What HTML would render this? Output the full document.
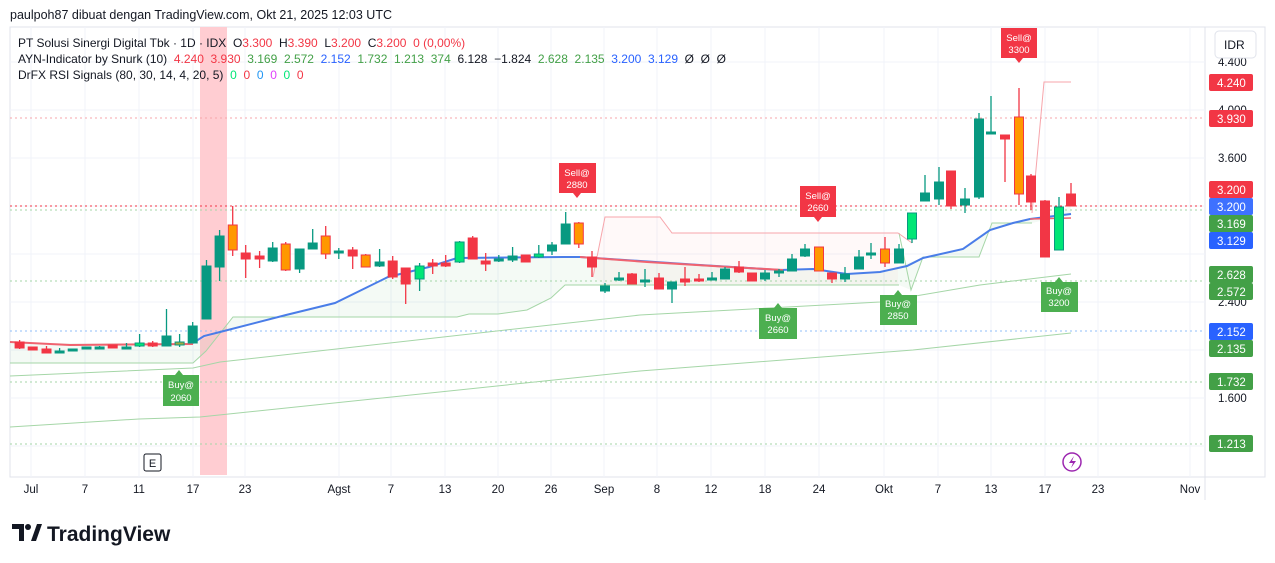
<!DOCTYPE html>
<html><head><meta charset="utf-8"><style>
body{margin:0;width:1275px;height:563px;background:#fff;overflow:hidden;font-family:"Liberation Sans",sans-serif;}
.t{position:absolute;white-space:nowrap;font-size:12px;color:#131722;}
</style></head><body>
<div style="position:relative;width:1275px;height:563px">
<svg width="1275" height="563" style="position:absolute;left:0;top:0" font-family="Liberation Sans, sans-serif">
<rect x="10" y="27" width="1255" height="450" fill="none" stroke="#e0e3eb"/>
<line x1="1205" y1="27" x2="1205" y2="500" stroke="#e0e3eb"/>
<line x1="10" y1="477" x2="1205" y2="477" stroke="#e0e3eb"/>
<g stroke="#f0f3fa">
<line x1="10" y1="62" x2="1205" y2="62"/><line x1="10" y1="110" x2="1205" y2="110"/><line x1="10" y1="158" x2="1205" y2="158"/><line x1="10" y1="206" x2="1205" y2="206"/><line x1="10" y1="254" x2="1205" y2="254"/><line x1="10" y1="302" x2="1205" y2="302"/><line x1="10" y1="350" x2="1205" y2="350"/><line x1="10" y1="398" x2="1205" y2="398"/><line x1="10" y1="446" x2="1205" y2="446"/>
<line x1="31" y1="27" x2="31" y2="477"/><line x1="85" y1="27" x2="85" y2="477"/><line x1="139" y1="27" x2="139" y2="477"/><line x1="193" y1="27" x2="193" y2="477"/><line x1="245" y1="27" x2="245" y2="477"/><line x1="339" y1="27" x2="339" y2="477"/><line x1="391" y1="27" x2="391" y2="477"/><line x1="445" y1="27" x2="445" y2="477"/><line x1="498" y1="27" x2="498" y2="477"/><line x1="551" y1="27" x2="551" y2="477"/><line x1="604" y1="27" x2="604" y2="477"/><line x1="657" y1="27" x2="657" y2="477"/><line x1="711" y1="27" x2="711" y2="477"/><line x1="765" y1="27" x2="765" y2="477"/><line x1="819" y1="27" x2="819" y2="477"/><line x1="884" y1="27" x2="884" y2="477"/><line x1="938" y1="27" x2="938" y2="477"/><line x1="991" y1="27" x2="991" y2="477"/><line x1="1045" y1="27" x2="1045" y2="477"/><line x1="1098" y1="27" x2="1098" y2="477"/><line x1="1190" y1="27" x2="1190" y2="477"/>
</g>
<rect x="200" y="27" width="27" height="448" fill="#ffcdd2"/>
<!-- fills -->
<polygon points="10,363 193,363 206,351 233,317 457,317 469,314 498,314 527,310 551,298 565,285 592,285 605,285 899,285 911,290 923,257 979,257 992,223 1032,223 1071,214 1071,206 1032,219 990,230 963,249 923,258 880,272 847,274 813,269 780,270 713,266 647,262 580,257 457,258 429,267 388,277 335,303 286,315 220,332 193,343 10,343" fill="#4caf50" fill-opacity="0.06"/>
<polygon points="593,277 605,217 660,217 672,233 898,233 898,285 605,285" fill="#f23645" fill-opacity="0.03"/>
<!-- dotted levels -->
<g stroke-dasharray="2,3" stroke-width="1">
<line x1="10" y1="118" x2="1205" y2="118" stroke="#f7a5ab"/>
<line x1="10" y1="206" x2="1205" y2="206" stroke="#f23645"/>
<line x1="10" y1="210" x2="1205" y2="210" stroke="#a5d6a7"/>
<line x1="10" y1="281" x2="1205" y2="281" stroke="#a5d6a7"/>
<line x1="10" y1="331" x2="1205" y2="331" stroke="#90bff9"/>
<line x1="10" y1="382" x2="1205" y2="382" stroke="#a5d6a7"/>
<line x1="10" y1="444" x2="1205" y2="444" stroke="#a5d6a7"/>
</g>
<!-- envelope lines -->
<polyline fill="none" stroke="#a5d6a7" stroke-width="1" points="10,376 193,368 220,362 640,315 880,302 980,285 1071,274"/>
<polyline fill="none" stroke="#a5d6a7" stroke-width="1" points="10,427 139,419 200,417 640,371 913,350 1071,333"/>
<polyline fill="none" stroke="#a5d6a7" stroke-width="1" points="10,363 193,363 206,351 233,317 457,317 469,314 498,314 527,310 551,298 565,285 592,285 605,285 899,285"/>
<polyline fill="none" stroke="#a5d6a7" stroke-width="1" points="899,233 911,290 923,257 979,257 992,223 1032,223"/>
<polyline fill="none" stroke="#f7a5ab" stroke-width="1" points="593,277 605,217 660,217 672,233 898,233 912,243"/>
<polyline fill="none" stroke="#f7a5ab" stroke-width="1" points="1032,213 1044,82 1071,82"/>
<!-- MAs -->
<polyline fill="none" stroke="#f06370" stroke-width="2" points="10,342 70,345 193,344"/>
<polyline fill="none" stroke="#4a7de8" stroke-width="2" points="193,343 204,336 220,332 286,315 335,303 388,277 429,267 457,258 563,257 580,257 700,265 780,270 813,269 847,274 880,272 907,266 923,258 963,249 990,230 1013,223 1030,219 1071,214"/>
<polyline fill="none" stroke="#f06370" stroke-width="2" points="580,257 647,262 713,266 783,270"/>
<polyline fill="none" stroke="#f06370" stroke-width="1.5" points="1030,219 1071,218"/>
<!-- candles -->
<g id="c"></g>
<!-- signals -->
<g font-size="9.5" text-anchor="middle" fill="#fff">
<path d="M163,375 h36 v31 h-36z M175,375 l4,-5 l4,5z" fill="#4caf50"/><text x="181" y="388">Buy@</text><text x="181" y="401">2060</text>
<path d="M559,163 h37 v30 h-37z M573,193 l4,5 l4,-5z" fill="#f23645"/><text x="577" y="176">Sell@</text><text x="577" y="188">2880</text>
<path d="M800,186 h36 v31 h-36z M814,217 l4,5 l4,-5z" fill="#f23645"/><text x="818" y="199">Sell@</text><text x="818" y="211">2660</text>
<path d="M1001,28 h36 v30 h-36z M1015,58 l4,5 l4,-5z" fill="#f23645"/><text x="1019" y="41">Sell@</text><text x="1019" y="53">3300</text>
<path d="M759,308 h38 v31 h-38z M774,308 l4,-5 l4,5z" fill="#4caf50"/><text x="778" y="321">Buy@</text><text x="778" y="333">2660</text>
<path d="M880,295 h37 v30 h-37z M894,295 l4,-5 l4,5z" fill="#4caf50"/><text x="898" y="307">Buy@</text><text x="898" y="319">2850</text>
<path d="M1041,282 h37 v30 h-37z M1055,282 l4,-5 l4,5z" fill="#4caf50"/><text x="1059" y="294">Buy@</text><text x="1059" y="306">3200</text>
</g>
<!-- price axis -->
<g font-size="11.5" fill="#131722">
<text x="1218" y="66">4.400</text><text x="1218" y="114">4.000</text><text x="1218" y="162">3.600</text><text x="1218" y="306">2.400</text><text x="1218" y="402">1.600</text>
</g>
<g font-size="11.5" fill="#fff">
<rect x="1209" y="74" width="44" height="17" rx="2" fill="#f23645"/><text x="1217" y="87">4.240</text>
<rect x="1209" y="110" width="44" height="17" rx="2" fill="#f23645"/><text x="1217" y="123">3.930</text>
<rect x="1209" y="181" width="44" height="17" rx="2" fill="#f23645"/><text x="1217" y="194">3.200</text>
<rect x="1209" y="198" width="44" height="17" rx="2" fill="#2962ff" fill-opacity="0.9"/><text x="1217" y="211">3.200</text>
<rect x="1209" y="215" width="44" height="17" rx="2" fill="#43a047"/><text x="1217" y="228">3.169</text>
<rect x="1209" y="232" width="44" height="17" rx="2" fill="#2962ff"/><text x="1217" y="245">3.129</text>
<rect x="1209" y="266" width="44" height="17" rx="2" fill="#43a047"/><text x="1217" y="279">2.628</text>
<rect x="1209" y="283" width="44" height="17" rx="2" fill="#43a047"/><text x="1217" y="296">2.572</text>
<rect x="1209" y="323" width="44" height="17" rx="2" fill="#2962ff"/><text x="1217" y="336">2.152</text>
<rect x="1209" y="340" width="44" height="17" rx="2" fill="#43a047"/><text x="1217" y="353">2.135</text>
<rect x="1209" y="373" width="44" height="17" rx="2" fill="#43a047"/><text x="1217" y="386">1.732</text>
<rect x="1209" y="435" width="44" height="17" rx="2" fill="#43a047"/><text x="1217" y="448">1.213</text>
</g>
<rect x="1215" y="31" width="41" height="27" rx="4" fill="#fff" stroke="#e0e3eb"/>
<text x="1224" y="49" font-size="12" fill="#131722">IDR</text>
<!-- time axis -->
<g font-size="11.5" fill="#131722" text-anchor="middle">
<text x="31" y="493">Jul</text><text x="85" y="493">7</text><text x="139" y="493">11</text><text x="193" y="493">17</text><text x="245" y="493">23</text><text x="339" y="493">Agst</text><text x="391" y="493">7</text><text x="445" y="493">13</text><text x="498" y="493">20</text><text x="551" y="493">26</text><text x="604" y="493">Sep</text><text x="657" y="493">8</text><text x="711" y="493">12</text><text x="765" y="493">18</text><text x="819" y="493">24</text><text x="884" y="493">Okt</text><text x="938" y="493">7</text><text x="991" y="493">13</text><text x="1045" y="493">17</text><text x="1098" y="493">23</text><text x="1190" y="493">Nov</text>
</g>
<rect x="144" y="454" width="17" height="17" rx="2" fill="#fff" stroke="#131722"/>
<text x="152.5" y="467" font-size="11" text-anchor="middle" fill="#131722">E</text>
<circle cx="1072" cy="462" r="9" fill="#fff" stroke="#9c27b0" stroke-width="1.5"/>
<path d="M1074,456 l-5,7 h4 l-2,5 l5,-7 h-4z" fill="#9c27b0"/>
<!-- logo -->
<g fill="#131722"><path d="M12,524 h12 v17 h-5 v-12 h-7z"/><circle cx="28" cy="527" r="3"/><path d="M31,541 l6,-17 h5 l-6,17z"/></g>
<text x="47" y="541" font-size="21" font-weight="bold" fill="#131722">TradingView</text>
</svg>
<div class="t" style="left:10px;top:8px;font-size:12.5px">paulpoh87 dibuat dengan TradingView.com, Okt 21, 2025 12:03 UTC</div>
<div class="t" style="left:18px;top:36px">PT Solusi Sinergi Digital Tbk · 1D · IDX &nbsp;O<span style="color:#f23645">3.300</span> &nbsp;H<span style="color:#f23645">3.390</span> &nbsp;L<span style="color:#f23645">3.200</span> &nbsp;C<span style="color:#f23645">3.200 &nbsp;0 (0,00%)</span></div>
<div class="t" style="left:18px;top:52px">AYN-Indicator by Snurk (10) &nbsp;<span style="color:#f23645">4.240 &nbsp;3.930</span> &nbsp;<span style="color:#43a047">3.169 &nbsp;2.572</span> &nbsp;<span style="color:#2962ff">2.152</span> &nbsp;<span style="color:#43a047">1.732 &nbsp;1.213 &nbsp;374</span> &nbsp;6.128 &nbsp;−1.824 &nbsp;<span style="color:#43a047">2.628 &nbsp;2.135</span> &nbsp;<span style="color:#2962ff">3.200 &nbsp;3.129</span> &nbsp;Ø &nbsp;Ø &nbsp;Ø</div>
<div class="t" style="left:18px;top:68px">DrFX RSI Signals (80, 30, 14, 4, 20, 5) &nbsp;<span style="color:#00e676">0</span> &nbsp;<span style="color:#f23645">0</span> &nbsp;<span style="color:#2196f3">0</span> &nbsp;<span style="color:#e040fb">0</span> &nbsp;<span style="color:#00e676">0</span> &nbsp;<span style="color:#f23645">0</span></div>
</div>
<script>
var d=[[19.6,'r',342,348,340,349],[32.7,'r',347,350,347,350],[46.5,'r',349,353,346,353],[59.6,'t',351,353,348,353],[72.7,'t',349,351,349,351],[86.5,'t',347,349,347,349],[99.6,'t',347,348,346,348],[112.7,'r',345,348,345,348],[126.5,'t',347,349,343,348],[139.6,'c',343,346,334,347],[152.7,'r',343,346,341,347],[166.5,'t',336,346,309,346],[179.6,'o2',342,345,334,347],[192.7,'t',326,343,322,343],[206.5,'t',266,319,260,319],[219.6,'t',236,267,230,281],[232.7,'o',225,250,206,256],[245.7,'r',253,259,245,278],[259.6,'r',256,259,251,268],[272.7,'t',248,261,242,262],[285.7,'o',244,270,242,271],[299.6,'t',249,269,249,273],[312.7,'t',243,249,229,249],[325.7,'o',236,254,226,259],[338.8,'t',251,252,248,259],[352.7,'r',250,256,247,269],[365.7,'o',255,267,254,267],[379.6,'t',262,266,249,267],[392.7,'r',261,277,256,279],[405.7,'r',268,284,268,304],[419.6,'c',266,279,263,291],[432.7,'r',263,266,259,274],[445.7,'r',263,266,255,267],[459.6,'c',242,262,241,263],[472.7,'r',238,259,236,259],[485.7,'r',261,264,253,271],[498.8,'t',259,261,255,262],[512.6,'t',256,260,247,262],[525.7,'r',255,262,255,262],[538.8,'c',254,257,245,258],[552,'t',245,251,242,255],[565.7,'t',224,244,212,244],[578.8,'o',223,244,222,248],[592,'r',257,267,251,277],[605,'t',286,291,283,293],[619,'t',278,280,272,281],[632,'r',274,284,273,284],[645,'t',280,281,269,287],[659,'r',278,289,273,289],[672,'t',282,289,282,303],[685,'r',279,282,267,286],[699,'r',279,281,274,282],[712,'t',278,279,272,280],[725,'t',269,279,267,279],[739,'r',267,272,261,273],[752,'r',273,281,273,281],[765,'t',273,279,270,281],[779,'t',271,273,269,277],[792,'t',259,271,254,271],[805,'t',249,256,244,257],[819,'o',247,271,247,271],[832,'r',273,279,273,283],[845,'t',274,279,267,282],[859,'t',257,269,250,269],[871,'t',253,254,243,259],[885,'o',249,263,237,267],[899,'t',249,263,244,263],[912,'c',213,239,213,243],[925,'t',193,201,175,201],[939,'t',182,199,167,205],[951,'r',171,206,171,209],[965,'t',199,205,188,213],[979,'t',119,197,113,199],[991,'t',132,133,96,133],[1005,'r',135,139,135,182],[1019,'o',117,194,88,205],[1031,'r',176,202,174,210],[1045,'r',201,257,200,257],[1059,'c',207,250,197,250],[1071,'r',194,206,183,206]];
var col={r:['#f23645','#f23645'],t:['#089981','#089981'],c:['#00e676','#089981'],o:['#ff9800','#f23645'],o2:['#a5a640','#089981']};
var s='';
d.forEach(function(k){var c=col[k[1]];var h=Math.max(k[3]-k[2],2);
s+='<line x1="'+k[0]+'" y1="'+k[4]+'" x2="'+k[0]+'" y2="'+k[5]+'" stroke="'+c[1]+'" stroke-width="1.3"/>';
s+='<rect x="'+(k[0]-4.5)+'" y="'+k[2]+'" width="9" height="'+h+'" fill="'+c[0]+'" stroke="'+c[1]+'" stroke-width="1"/>';});
document.getElementById('c').innerHTML=s;
</script>
</body></html>
